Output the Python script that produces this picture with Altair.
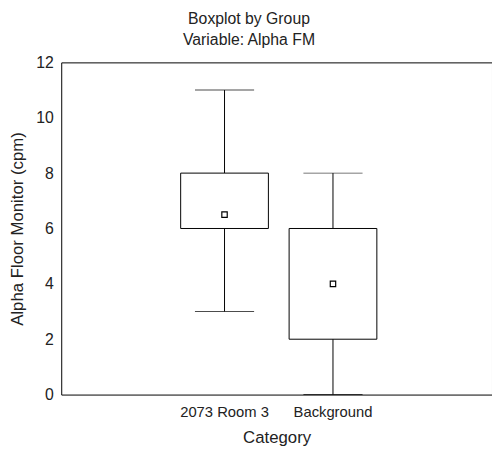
import altair as alt
import pandas as pd

categories = ["2073 Room 3", "Background"]
mins = [3, 0]
q1s = [6, 2]
q3s = [8, 6]
maxs = [11, 8]
means = [6.5, 4]
y_ticks = [0, 2, 4, 6, 8, 10, 12]

df = pd.DataFrame({"cat": categories, "min": mins, "q1": q1s, "q3": q3s,
                   "max": maxs, "mean": means})

FONT = "Liberation Sans"
INK = "#222222"

x = alt.X("cat:N", title="Category", sort=categories,
          scale=alt.Scale(paddingOuter=0.986, paddingInner=0, align=0.51),
          axis=alt.Axis(labelAngle=0, ticks=False, domain=False,
                        labelFontSize=15, titleFontSize=17, labelPadding=10,
                        titlePadding=11, labelColor=INK, titleColor=INK,
                        titleFontWeight="normal", labelFont=FONT, titleFont=FONT))
ysc = alt.Scale(domain=[0, 12], nice=False)
yaxis = alt.Axis(values=y_ticks, grid=False, ticks=False, domain=False,
                 labelFontSize=16, titleFontSize=17, labelPadding=8,
                 titlePadding=9, labelColor=INK, titleColor=INK,
                 titleFontWeight="normal", labelFont=FONT, titleFont=FONT)

base = alt.Chart(df)

whisk = base.mark_rule(color="black", strokeWidth=1).encode(
    x=x, y=alt.Y("min:Q", scale=ysc, axis=yaxis, title="Alpha Floor Monitor (cpm)"),
    y2="max:Q")
box = base.mark_bar(size=89, fill="white", stroke="black", strokeWidth=1).encode(
    x=x, y=alt.Y("q1:Q", scale=ysc), y2="q3:Q")
cap_lo = base.mark_tick(size=60, thickness=1, color="black").encode(
    x=x, y=alt.Y("min:Q", scale=ysc))
cap_hi = base.mark_tick(size=60, thickness=1, color="black").encode(
    x=x, y=alt.Y("max:Q", scale=ysc))
mean_pt = base.mark_point(shape="square", size=30, filled=False, color="black",
                          strokeWidth=1.2, opacity=1).encode(
    x=x, y=alt.Y("mean:Q", scale=ysc))

chart = alt.layer(whisk, box, cap_lo, cap_hi, mean_pt).properties(
    width=437, height=337,
    title=alt.TitleParams(["Boxplot by Group", "Variable: Alpha FM"],
                          fontSize=16, fontWeight="normal", font=FONT,
                          anchor="middle", dx=-28, offset=7, lineHeight=21,
                          color=INK),
    autosize=alt.AutoSizeParams(type="none"),
    padding={"left": 54, "top": 52, "right": 0, "bottom": 50},
).configure_view(stroke="black", strokeWidth=1)

chart.save("out.html", embed_options={"renderer": "svg", "actions": False})
